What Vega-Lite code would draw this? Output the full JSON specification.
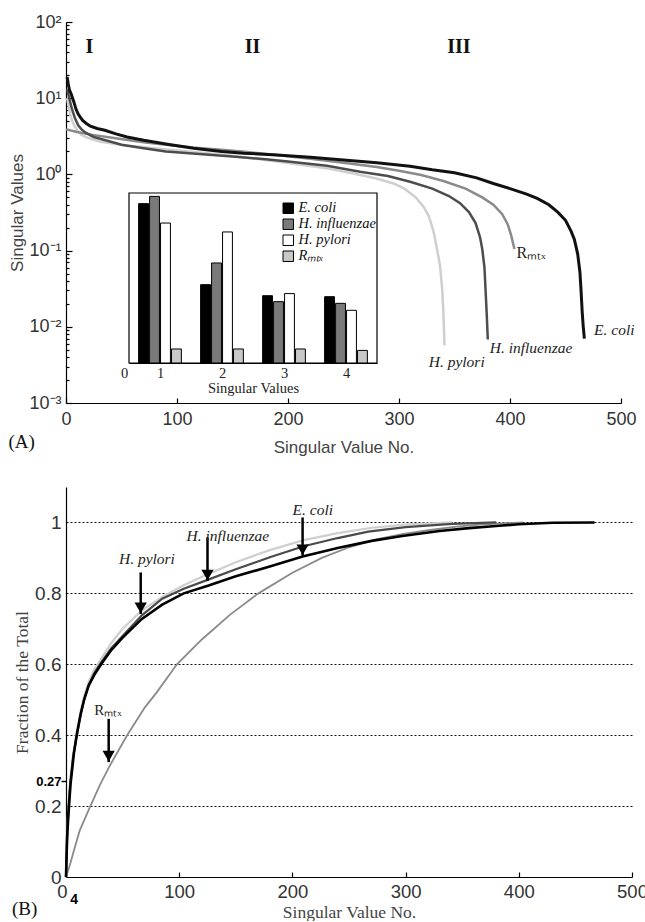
{
  "$schema": "https://vega.github.io/schema/vega-lite/v6.json",
  "padding": {"left": 8, "top": 13, "right": 0, "bottom": 0},
  "bounds": "flush",
  "spacing": 84,
  "config": {
    "view": {"stroke": null},
    "axis": {"domainColor": "#000", "tickColor": "#000", "labelColor": "#333", "titleColor": "#444", "grid": false, "titleFontWeight": "normal", "labelFlush": false, "labelOverlap": false}
  },
  "datasets": {
    "a": [
      {"s":"E. coli","x":1,"y":19},{"s":"E. coli","x":2,"y":15.5},{"s":"E. coli","x":3,"y":13},{"s":"E. coli","x":5,"y":11},{"s":"E. coli","x":7,"y":9},{"s":"E. coli","x":9,"y":7.2},{"s":"E. coli","x":11,"y":6.2},{"s":"E. coli","x":13,"y":5.6},{"s":"E. coli","x":15,"y":5.1},{"s":"E. coli","x":18,"y":4.7},{"s":"E. coli","x":22,"y":4.3},{"s":"E. coli","x":28,"y":4.0},{"s":"E. coli","x":35,"y":3.8},{"s":"E. coli","x":45,"y":3.4},{"s":"E. coli","x":55,"y":3.1},{"s":"E. coli","x":70,"y":2.8},{"s":"E. coli","x":90,"y":2.5},{"s":"E. coli","x":115,"y":2.2},{"s":"E. coli","x":140,"y":2.0},{"s":"E. coli","x":160,"y":1.9},{"s":"E. coli","x":190,"y":1.8},{"s":"E. coli","x":220,"y":1.68},{"s":"E. coli","x":250,"y":1.55},{"s":"E. coli","x":280,"y":1.42},{"s":"E. coli","x":310,"y":1.28},{"s":"E. coli","x":330,"y":1.15},{"s":"E. coli","x":350,"y":1.05},{"s":"E. coli","x":370,"y":0.9},{"s":"E. coli","x":385,"y":0.76},{"s":"E. coli","x":400,"y":0.65},{"s":"E. coli","x":415,"y":0.55},{"s":"E. coli","x":425,"y":0.48},{"s":"E. coli","x":435,"y":0.4},{"s":"E. coli","x":443,"y":0.32},{"s":"E. coli","x":450,"y":0.25},{"s":"E. coli","x":455,"y":0.18},{"s":"E. coli","x":458,"y":0.14},{"s":"E. coli","x":461,"y":0.09},{"s":"E. coli","x":463,"y":0.052},{"s":"E. coli","x":464,"y":0.03},{"s":"E. coli","x":465,"y":0.016},{"s":"E. coli","x":466,"y":0.01},{"s":"E. coli","x":467,"y":0.007},
      {"s":"H. influenzae","x":1,"y":13},{"s":"H. influenzae","x":3,"y":10},{"s":"H. influenzae","x":5,"y":7.5},{"s":"H. influenzae","x":8,"y":5.5},{"s":"H. influenzae","x":11,"y":4.4},{"s":"H. influenzae","x":14,"y":3.9},{"s":"H. influenzae","x":18,"y":3.5},{"s":"H. influenzae","x":25,"y":3.1},{"s":"H. influenzae","x":38,"y":2.75},{"s":"H. influenzae","x":50,"y":2.45},{"s":"H. influenzae","x":70,"y":2.2},{"s":"H. influenzae","x":90,"y":2.0},{"s":"H. influenzae","x":120,"y":1.85},{"s":"H. influenzae","x":150,"y":1.72},{"s":"H. influenzae","x":180,"y":1.58},{"s":"H. influenzae","x":200,"y":1.48},{"s":"H. influenzae","x":235,"y":1.3},{"s":"H. influenzae","x":265,"y":1.08},{"s":"H. influenzae","x":290,"y":0.95},{"s":"H. influenzae","x":310,"y":0.8},{"s":"H. influenzae","x":330,"y":0.65},{"s":"H. influenzae","x":345,"y":0.52},{"s":"H. influenzae","x":355,"y":0.42},{"s":"H. influenzae","x":363,"y":0.32},{"s":"H. influenzae","x":369,"y":0.23},{"s":"H. influenzae","x":373,"y":0.15},{"s":"H. influenzae","x":375,"y":0.105},{"s":"H. influenzae","x":377,"y":0.06},{"s":"H. influenzae","x":378,"y":0.03},{"s":"H. influenzae","x":379,"y":0.015},{"s":"H. influenzae","x":380,"y":0.0068},
      {"s":"H. pylori","x":1,"y":10},{"s":"H. pylori","x":3,"y":7},{"s":"H. pylori","x":5,"y":5.3},{"s":"H. pylori","x":7,"y":4.5},{"s":"H. pylori","x":10,"y":3.8},{"s":"H. pylori","x":14,"y":3.3},{"s":"H. pylori","x":20,"y":3.0},{"s":"H. pylori","x":30,"y":2.7},{"s":"H. pylori","x":54,"y":2.4},{"s":"H. pylori","x":80,"y":2.2},{"s":"H. pylori","x":110,"y":2.0},{"s":"H. pylori","x":145,"y":1.78},{"s":"H. pylori","x":180,"y":1.55},{"s":"H. pylori","x":210,"y":1.35},{"s":"H. pylori","x":235,"y":1.2},{"s":"H. pylori","x":260,"y":1.02},{"s":"H. pylori","x":280,"y":0.88},{"s":"H. pylori","x":295,"y":0.76},{"s":"H. pylori","x":305,"y":0.65},{"s":"H. pylori","x":315,"y":0.5},{"s":"H. pylori","x":322,"y":0.38},{"s":"H. pylori","x":327,"y":0.28},{"s":"H. pylori","x":331,"y":0.18},{"s":"H. pylori","x":334,"y":0.11},{"s":"H. pylori","x":337,"y":0.063},{"s":"H. pylori","x":339,"y":0.03},{"s":"H. pylori","x":340,"y":0.015},{"s":"H. pylori","x":341,"y":0.0057},
      {"s":"R_mtx","x":0,"y":3.9},{"s":"R_mtx","x":10,"y":3.6},{"s":"R_mtx","x":24,"y":3.3},{"s":"R_mtx","x":40,"y":3.05},{"s":"R_mtx","x":54,"y":2.85},{"s":"R_mtx","x":70,"y":2.65},{"s":"R_mtx","x":90,"y":2.45},{"s":"R_mtx","x":114,"y":2.25},{"s":"R_mtx","x":140,"y":2.1},{"s":"R_mtx","x":161,"y":1.98},{"s":"R_mtx","x":190,"y":1.8},{"s":"R_mtx","x":220,"y":1.6},{"s":"R_mtx","x":250,"y":1.42},{"s":"R_mtx","x":280,"y":1.25},{"s":"R_mtx","x":300,"y":1.12},{"s":"R_mtx","x":320,"y":0.98},{"s":"R_mtx","x":340,"y":0.82},{"s":"R_mtx","x":360,"y":0.65},{"s":"R_mtx","x":375,"y":0.5},{"s":"R_mtx","x":385,"y":0.4},{"s":"R_mtx","x":393,"y":0.3},{"s":"R_mtx","x":398,"y":0.22},{"s":"R_mtx","x":401,"y":0.16},{"s":"R_mtx","x":403,"y":0.12},{"s":"R_mtx","x":404,"y":0.105}
    ],
    "b": [
      {"s":"E. coli","x":0,"y":0},{"s":"E. coli","x":1,"y":0.1125},{"s":"E. coli","x":2,"y":0.168},{"s":"E. coli","x":3,"y":0.215},{"s":"E. coli","x":4,"y":0.262},{"s":"E. coli","x":5,"y":0.29},{"s":"E. coli","x":7,"y":0.35},{"s":"E. coli","x":10,"y":0.41},{"s":"E. coli","x":13,"y":0.46},{"s":"E. coli","x":16,"y":0.5},{"s":"E. coli","x":20,"y":0.54},{"s":"E. coli","x":25,"y":0.57},{"s":"E. coli","x":31,"y":0.6},{"s":"E. coli","x":40,"y":0.64},{"s":"E. coli","x":50,"y":0.675},{"s":"E. coli","x":67,"y":0.728},{"s":"E. coli","x":85,"y":0.768},{"s":"E. coli","x":104,"y":0.8},{"s":"E. coli","x":126,"y":0.822},{"s":"E. coli","x":150,"y":0.848},{"s":"E. coli","x":180,"y":0.876},{"s":"E. coli","x":209,"y":0.904},{"s":"E. coli","x":240,"y":0.928},{"s":"E. coli","x":270,"y":0.948},{"s":"E. coli","x":297,"y":0.962},{"s":"E. coli","x":330,"y":0.976},{"s":"E. coli","x":356,"y":0.984},{"s":"E. coli","x":380,"y":0.99},{"s":"E. coli","x":400,"y":0.995},{"s":"E. coli","x":430,"y":0.999},{"s":"E. coli","x":467,"y":1.0},
      {"s":"H. influenzae","x":0,"y":0},{"s":"H. influenzae","x":1,"y":0.117},{"s":"H. influenzae","x":2,"y":0.188},{"s":"H. influenzae","x":3,"y":0.231},{"s":"H. influenzae","x":4,"y":0.273},{"s":"H. influenzae","x":6,"y":0.33},{"s":"H. influenzae","x":9,"y":0.39},{"s":"H. influenzae","x":13,"y":0.46},{"s":"H. influenzae","x":16,"y":0.5},{"s":"H. influenzae","x":20,"y":0.54},{"s":"H. influenzae","x":25,"y":0.575},{"s":"H. influenzae","x":31,"y":0.605},{"s":"H. influenzae","x":40,"y":0.645},{"s":"H. influenzae","x":50,"y":0.68},{"s":"H. influenzae","x":67,"y":0.738},{"s":"H. influenzae","x":85,"y":0.785},{"s":"H. influenzae","x":104,"y":0.813},{"s":"H. influenzae","x":125,"y":0.838},{"s":"H. influenzae","x":150,"y":0.868},{"s":"H. influenzae","x":180,"y":0.902},{"s":"H. influenzae","x":210,"y":0.933},{"s":"H. influenzae","x":240,"y":0.956},{"s":"H. influenzae","x":267,"y":0.974},{"s":"H. influenzae","x":300,"y":0.987},{"s":"H. influenzae","x":341,"y":0.996},{"s":"H. influenzae","x":380,"y":1.0},
      {"s":"H. pylori","x":0,"y":0},{"s":"H. pylori","x":1,"y":0.099},{"s":"H. pylori","x":2,"y":0.191},{"s":"H. pylori","x":3,"y":0.24},{"s":"H. pylori","x":4,"y":0.277},{"s":"H. pylori","x":6,"y":0.34},{"s":"H. pylori","x":9,"y":0.4},{"s":"H. pylori","x":13,"y":0.47},{"s":"H. pylori","x":16,"y":0.51},{"s":"H. pylori","x":20,"y":0.55},{"s":"H. pylori","x":25,"y":0.585},{"s":"H. pylori","x":31,"y":0.615},{"s":"H. pylori","x":40,"y":0.66},{"s":"H. pylori","x":50,"y":0.7},{"s":"H. pylori","x":67,"y":0.752},{"s":"H. pylori","x":85,"y":0.79},{"s":"H. pylori","x":104,"y":0.823},{"s":"H. pylori","x":125,"y":0.854},{"s":"H. pylori","x":150,"y":0.888},{"s":"H. pylori","x":180,"y":0.922},{"s":"H. pylori","x":210,"y":0.95},{"s":"H. pylori","x":240,"y":0.97},{"s":"H. pylori","x":270,"y":0.985},{"s":"H. pylori","x":300,"y":0.994},{"s":"H. pylori","x":341,"y":1.0},
      {"s":"R_mtx","x":0,"y":0},{"s":"R_mtx","x":2,"y":0.02},{"s":"R_mtx","x":4,"y":0.04},{"s":"R_mtx","x":7,"y":0.075},{"s":"R_mtx","x":12,"y":0.13},{"s":"R_mtx","x":21.5,"y":0.2},{"s":"R_mtx","x":30,"y":0.26},{"s":"R_mtx","x":38,"y":0.31},{"s":"R_mtx","x":54,"y":0.4},{"s":"R_mtx","x":70,"y":0.48},{"s":"R_mtx","x":80,"y":0.52},{"s":"R_mtx","x":98,"y":0.6},{"s":"R_mtx","x":120,"y":0.67},{"s":"R_mtx","x":145,"y":0.74},{"s":"R_mtx","x":170,"y":0.8},{"s":"R_mtx","x":200,"y":0.858},{"s":"R_mtx","x":226,"y":0.9},{"s":"R_mtx","x":250,"y":0.93},{"s":"R_mtx","x":275,"y":0.953},{"s":"R_mtx","x":297,"y":0.967},{"s":"R_mtx","x":320,"y":0.978},{"s":"R_mtx","x":345,"y":0.988},{"s":"R_mtx","x":370,"y":0.995},{"s":"R_mtx","x":390,"y":0.998},{"s":"R_mtx","x":404,"y":1.0}
    ],
    "bars": [
      {"sv":1,"series":"E. coli","frac":0.1125},{"sv":1,"series":"H. influenzae","frac":0.1176},{"sv":1,"series":"H. pylori","frac":0.0988},{"sv":1,"series":"Rₘₜₓ","frac":0.0099},
      {"sv":2,"series":"E. coli","frac":0.0553},{"sv":2,"series":"H. influenzae","frac":0.0706},{"sv":2,"series":"H. pylori","frac":0.0925},{"sv":2,"series":"Rₘₜₓ","frac":0.0099},
      {"sv":3,"series":"E. coli","frac":0.0475},{"sv":3,"series":"H. influenzae","frac":0.0433},{"sv":3,"series":"H. pylori","frac":0.049},{"sv":3,"series":"Rₘₜₓ","frac":0.0099},
      {"sv":4,"series":"E. coli","frac":0.0468},{"sv":4,"series":"H. influenzae","frac":0.0421},{"sv":4,"series":"H. pylori","frac":0.0372},{"sv":4,"series":"Rₘₜₓ","frac":0.0089}
    ]
  },
  "vconcat": [
    {
      "width": 555,
      "height": 381,
      "layer": [
        {
          "encoding": {
            "x": {"field": "x", "type": "quantitative", "scale": {"domain": [0, 500], "nice": false, "zero": false},
              "axis": {"values": [0, 100, 200, 300, 400, 500], "format": "d", "tickSize": -5, "tickWidth": 1.2, "domainWidth": 1.2, "labelPadding": 12, "labelFont": "Liberation Sans", "labelFontSize": 18, "title": "Singular Value No.", "titleFont": "Liberation Sans", "titleFontSize": 17, "titleY": 44, "titleBaseline": "middle"}},
            "y": {"field": "y", "type": "quantitative", "scale": {"type": "log", "domain": [0.001, 100], "nice": false},
              "axis": {
                "values": [0.001,0.002,0.003,0.004,0.005,0.006,0.007,0.008,0.009,0.01,0.02,0.03,0.04,0.05,0.06,0.07,0.08,0.09,0.1,0.2,0.3,0.4,0.5,0.6,0.7,0.8,0.9,1,2,3,4,5,6,7,8,9,10,20,30,40,50,60,70,80,90,100],
                "tickSize": {"condition": {"test": "abs(log(datum.value)/LN10 - round(log(datum.value)/LN10)) < 0.001", "value": -6}, "value": -3},
                "tickWidth": 1.2, "domainWidth": 1.2,
                "labelExpr": "abs(log(datum.value)/LN10 - round(log(datum.value)/LN10)) < 0.001 ? '10' + ['⁻³','⁻²','⁻¹','⁰','¹','²'][round(log(datum.value)/LN10)+3] : ''",
                "labelPadding": 11, "labelFont": "Liberation Sans", "labelFontSize": 18,
                "title": "Singular Values", "titleFont": "Liberation Sans", "titleFontSize": 17, "titleX": -49, "titleBaseline": "middle"}}
          },
          "layer": [
            {"data": {"name": "a"}, "transform": [{"filter": "datum.s == 'H. pylori'"}], "mark": {"type": "line", "color": "#cfcfcf", "strokeWidth": 2.5}},
            {"data": {"name": "a"}, "transform": [{"filter": "datum.s == 'R_mtx'"}], "mark": {"type": "line", "color": "#8a8a8a", "strokeWidth": 2.5}},
            {"data": {"name": "a"}, "transform": [{"filter": "datum.s == 'H. influenzae'"}], "mark": {"type": "line", "color": "#4d4d4d", "strokeWidth": 2.5}},
            {"data": {"name": "a"}, "transform": [{"filter": "datum.s == 'E. coli'"}], "mark": {"type": "line", "color": "#111", "strokeWidth": 3}},
            {"data": {"values": [{"x": 494, "y": 0.0091, "t": "E. coli"}, {"x": 419, "y": 0.0052, "t": "H. influenzae"}, {"x": 352, "y": 0.0035, "t": "H. pylori"}]},
              "mark": {"type": "text", "font": "Liberation Serif", "fontStyle": "italic", "fontSize": 15.5, "color": "#222"},
              "encoding": {"text": {"field": "t"}}},
            {"data": {"values": [{"x": 419, "y": 0.093, "t": "Rₘₜₓ"}]},
              "mark": {"type": "text", "font": "Liberation Serif", "fontSize": 16, "color": "#222"},
              "encoding": {"text": {"field": "t"}}},
            {"data": {"values": [{"x": 21, "y": 47, "t": "I"}, {"x": 168, "y": 47, "t": "II"}, {"x": 354, "y": 47, "t": "III"}]},
              "mark": {"type": "text", "font": "Liberation Serif", "fontWeight": "bold", "fontSize": 20, "color": "#111"},
              "encoding": {"text": {"field": "t"}}},
            {"data": {"values": [{"x": -40, "y": 0.00031, "t": "(A)"}]},
              "mark": {"type": "text", "font": "Liberation Serif", "fontSize": 19, "color": "#111"},
              "encoding": {"text": {"field": "t"}}}
          ]
        },
        {
          "layer": [
            {
              "data": {"values": [{}]},
              "mark": {"type": "rect", "filled": false, "stroke": "#000", "strokeWidth": 1.2},
              "encoding": {
                "x": {"datum": 0.5, "type": "quantitative", "scale": {"domain": [0.5, 4.5], "range": [63, 311], "nice": false, "zero": false},
                  "axis": {"orient": "bottom", "offset": -40, "values": [0.5, 1, 2, 3, 4], "labelExpr": "datum.value < 1 ? '0' : '' + datum.value",
                    "labelOffset": {"condition": {"test": "datum.value < 1", "value": -5}, "value": 0},
                    "tickOpacity": {"condition": {"test": "datum.value < 1", "value": 0}, "value": 1},
                    "tickSize": -4, "labelPadding": 7, "labelFont": "Liberation Serif", "labelFontSize": 14.5, "labelColor": "#222",
                    "title": "Singular Values", "titleFont": "Liberation Serif", "titleFontSize": 14.5, "titleColor": "#222", "titleY": 25, "titleBaseline": "middle"}},
                "x2": {"datum": 4.5},
                "y": {"datum": 0, "type": "quantitative", "scale": {"domain": [0, 0.12], "range": [341, 171], "nice": false, "zero": false},
                  "axis": {"orient": "left", "offset": -63, "values": [0.02, 0.04, 0.06, 0.08, 0.1, 0.12], "labelExpr": "'' + datum.value",
                    "tickSize": -4, "labelPadding": 8, "labelFont": "Liberation Serif", "labelFontSize": 14, "labelColor": "#222",
                    "title": "Fraction of the Total", "titleFont": "Liberation Serif", "titleFontSize": 14.5, "titleColor": "#222", "titleX": -39, "titleBaseline": "middle"}},
                "y2": {"datum": 0.12}
              }
            },
            {
              "data": {"name": "bars"},
              "mark": {"type": "bar", "stroke": "#000", "strokeWidth": 1},
              "encoding": {
                "x": {"field": "sv", "type": "ordinal", "scale": {"range": [63, 311], "paddingInner": 0.31, "paddingOuter": 0.155}, "axis": null},
                "xOffset": {"field": "series", "type": "nominal", "scale": {"domain": ["E. coli", "H. influenzae", "H. pylori", "Rₘₜₓ"], "paddingInner": 0.1}},
                "y": {"field": "frac", "type": "quantitative", "scale": {"domain": [0, 0.12], "range": [341, 171], "nice": false, "zero": false}, "axis": null},
                "color": {"field": "series", "type": "nominal",
                  "scale": {"domain": ["E. coli", "H. influenzae", "H. pylori", "Rₘₜₓ"], "range": ["#000000", "#7a7a7a", "#ffffff", "#c8c8c8"]},
                  "legend": {"orient": "none", "legendX": 215, "legendY": 179, "title": null, "symbolType": "square", "symbolSize": 110,
                    "symbolStrokeColor": "#000", "symbolStrokeWidth": 1, "labelFont": "Liberation Serif", "labelFontStyle": "italic",
                    "labelFontSize": 14.5, "labelColor": "#111", "rowPadding": 0, "padding": 0, "labelOffset": 3, "labelLimit": 200}}
              }
            }
          ],
          "resolve": {"scale": {"x": "independent"}}
        }
      ],
      "resolve": {"scale": {"x": "independent", "y": "independent", "color": "independent"}}
    },
    {
      "width": 566,
      "height": 390,
      "encoding": {
        "x": {"field": "x", "type": "quantitative", "scale": {"domain": [0, 500], "nice": false, "zero": false},
          "axis": {"values": [0, 4, 100, 200, 300, 400, 500], "labelExpr": "'' + datum.value",
            "tickSize": {"condition": {"test": "datum.value == 4", "value": 0}, "value": -5},
            "labelPadding": {"condition": {"test": "datum.value == 4", "value": 15}, "value": 10},
            "labelOffset": {"condition": [{"test": "datum.value == 0", "value": -4}, {"test": "datum.value == 4", "value": 3}], "value": 0},
            "labelFontWeight": {"condition": {"test": "datum.value == 4", "value": "bold"}, "value": "normal"},
            "labelFontSize": {"condition": {"test": "datum.value == 4", "value": 14}, "value": 18.5},
            "labelColor": {"condition": {"test": "datum.value == 4", "value": "#000"}, "value": "#333"},
            "tickWidth": 1.2, "domainWidth": 1.2, "labelFont": "Liberation Sans",
            "title": "Singular Value No.", "titleFont": "Liberation Serif", "titleFontSize": 17.5, "titleY": 35, "titleBaseline": "middle"}},
        "y": {"field": "y", "type": "quantitative", "scale": {"domain": [0, 1.1], "nice": false, "zero": false},
          "axis": {"values": [0, 0.2, 0.27, 0.4, 0.6, 0.8, 1], "labelExpr": "'' + datum.value",
            "grid": true, "gridDash": [2, 2], "gridColor": "#111", "gridWidth": 1.2,
            "gridOpacity": {"condition": {"test": "datum.value == 0 || datum.value == 0.27", "value": 0}, "value": 1},
            "tickSize": {"condition": {"test": "datum.value == 0.27", "value": 5}, "value": 0},
            "tickWidth": 1.5,
            "labelPadding": {"condition": {"test": "datum.value == 0.27", "value": 0}, "value": 5},
            "labelFontWeight": {"condition": {"test": "datum.value == 0.27", "value": "bold"}, "value": "normal"},
            "labelFontSize": {"condition": {"test": "datum.value == 0.27", "value": 13}, "value": 19},
            "labelColor": {"condition": {"test": "datum.value == 0.27", "value": "#000"}, "value": "#333"},
            "domainWidth": 1.2, "labelFont": "Liberation Sans",
            "title": "Fraction of the Total", "titleFont": "Liberation Serif", "titleFontSize": 17.5, "titleX": -43.5, "titleBaseline": "middle"}}
      },
      "layer": [
        {"data": {"name": "b"}, "transform": [{"filter": "datum.s == 'R_mtx'"}], "mark": {"type": "line", "color": "#8a8a8a", "strokeWidth": 1.8}},
        {"data": {"name": "b"}, "transform": [{"filter": "datum.s == 'H. pylori'"}], "mark": {"type": "line", "color": "#cfcfcf", "strokeWidth": 2.2}},
        {"data": {"name": "b"}, "transform": [{"filter": "datum.s == 'H. influenzae'"}], "mark": {"type": "line", "color": "#4a4a4a", "strokeWidth": 2.2}},
        {"data": {"name": "b"}, "transform": [{"filter": "datum.s == 'E. coli'"}], "mark": {"type": "line", "color": "#000", "strokeWidth": 2.6}},
        {"data": {"values": [{}]}, "mark": {"type": "rule", "color": "#000", "strokeWidth": 2, "strokeDash": [2, 1.5]},
          "encoding": {"x": {"datum": 4, "type": "quantitative"}, "y": {"datum": 0, "type": "quantitative"}, "y2": {"datum": 0.27}}},
        {"data": {"values": [{}]}, "mark": {"type": "rule", "color": "#000", "strokeWidth": 1.5},
          "encoding": {"x": {"datum": 0, "type": "quantitative"}, "x2": {"datum": 4}, "y": {"datum": 0.27, "type": "quantitative"}}},
        {"data": {"values": [{"x": 66, "y": 0.742, "y2": 0.859}, {"x": 125, "y": 0.835, "y2": 0.958}, {"x": 209, "y": 0.906, "y2": 1.014}, {"x": 37.7, "y": 0.324, "y2": 0.446}]},
          "layer": [
            {"mark": {"type": "rule", "color": "#000", "strokeWidth": 2.5}, "encoding": {"y2": {"field": "y2"}}},
            {"mark": {"type": "point", "shape": "triangle-down", "filled": true, "color": "#000", "size": 150, "opacity": 1, "yOffset": -6}}
          ]},
        {"data": {"values": [{"x": 71.5, "y": 0.897, "t": "H. pylori"}, {"x": 143, "y": 0.962, "t": "H. influenzae"}, {"x": 218, "y": 1.035, "t": "E. coli"}]},
          "mark": {"type": "text", "font": "Liberation Serif", "fontStyle": "italic", "fontSize": 15.5, "color": "#222"},
          "encoding": {"text": {"field": "t"}}},
        {"data": {"values": [{"x": 37, "y": 0.47, "t": "Rₘₜₓ"}]},
          "mark": {"type": "text", "font": "Liberation Serif", "fontSize": 15, "color": "#222"},
          "encoding": {"text": {"field": "t"}}},
        {"data": {"values": [{"x": -36.6, "y": -0.089, "t": "(B)"}]},
          "mark": {"type": "text", "font": "Liberation Serif", "fontSize": 19, "color": "#111"},
          "encoding": {"text": {"field": "t"}}}
      ]
    }
  ]
}
